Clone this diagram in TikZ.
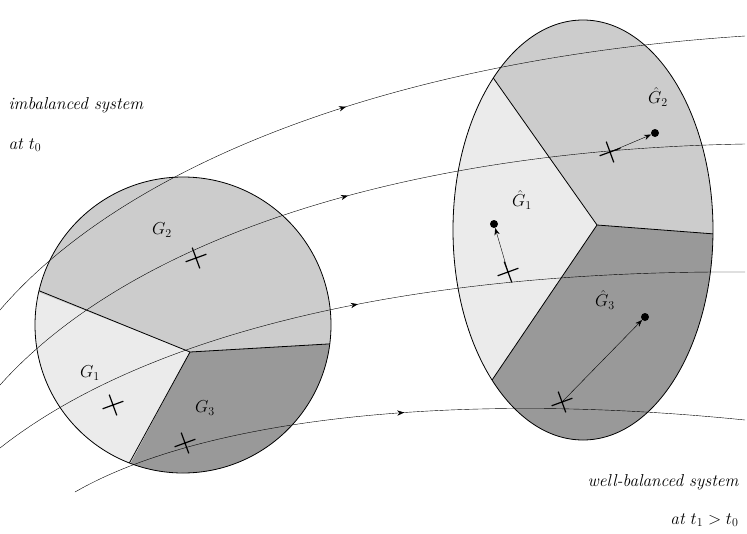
\documentclass[tikz,border=0pt]{standalone}
\usetikzlibrary{arrows.meta,decorations.markings,calc}
\begin{document}
\begin{tikzpicture}[x=1pt,y=-1pt,
  flow/.style={thin,postaction={decorate},decoration={markings,mark=at position 0.5 with {\arrow{Stealth[length=7pt]}},mark=at position 1 with {\arrow{Stealth[length=7pt]}}}},
  crossmark/.style={line width=1.2pt},
  dotmark/.style={circle,fill=black,inner sep=0pt,minimum size=8pt},
  disp/.style={-{Stealth[length=7pt]},thin},
  lbl/.style={font=\LARGE\itshape}]
\useasboundingbox (0,0) rectangle (747,533);
\definecolor{gA}{gray}{0.80}
\definecolor{gB}{gray}{0.92}
\definecolor{gC}{gray}{0.60}
% circle
\coordinate (c) at (183,325);
\coordinate (cm) at (190,352);
\begin{scope}
\clip (c) circle (148);
\fill[gA] (0,150) rectangle (340,480);
\fill[gB] (20,285) -- (cm) -- (127,470) -- (20,480) -- cycle;
\fill[gC] (cm) -- (345,343) -- (345,480) -- (127,470) -- cycle;
\draw[thick] (20,283) -- (cm) -- (345,343);
\draw[thick] (cm) -- (125,471);
\end{scope}
\draw[thick] (c) circle (148);
% ellipse
\coordinate (e) at (583,230);
\coordinate (em) at (597,225);
\begin{scope}
\clip (e) ellipse (130 and 210);
\fill[gA] (450,15) rectangle (715,445);
\fill[gB] (482,62) -- (em) -- (488,386) -- (450,386) -- (450,62) -- cycle;
\fill[gC] (em) -- (715,234) -- (715,445) -- (488,445) -- (488,386) -- cycle;
\draw[thick] (482,62) -- (em) -- (715,234);
\draw[thick] (em) -- (488,386);
\end{scope}
\draw[thick] (e) ellipse (130 and 210);
% flow lines
\coordinate (s1) at (0,310); \coordinate (t1) at (745,36);
\coordinate (s2) at (0,385); \coordinate (t2) at (745,144);
\coordinate (s3) at (0,448); \coordinate (t3) at (745,272);
\coordinate (s4) at (75,492); \coordinate (t4) at (745,420);
\draw[flow] (s1) .. controls (120,170) and (380,60) .. (t1);
\draw[flow] (s2) .. controls (130,240) and (400,150) .. (t2);
\draw[flow] (s3) .. controls (150,330) and (420,270) .. (t3);
\draw[flow] (s4) .. controls (200,420) and (450,390) .. (t4);
% crosses
\foreach \n/\px/\py in {x1/113/405,x2/196/258,x3/185/443,y1/508/272,y2/610/152,y3/562/402}{
  \coordinate (\n) at (\px,\py);
  \draw[crossmark,shift={(\px,\py)},rotate=20] (-11,0) -- (11,0) (0,-11) -- (0,11);
}
\node[dotmark] (d1) at (494,224) {};
\node[dotmark] (d2) at (655,133) {};
\node[dotmark] (d3) at (645,317) {};
\draw[disp] (508,272) -- (d1);
\draw[disp] (610,152) -- (d2);
\draw[disp] (562,402) -- (d3);
% labels
\node[font=\LARGE] (L1) at (90,373) {$G_1$};
\node[font=\LARGE] (L2) at (162,230) {$G_2$};
\node[font=\LARGE] (L3) at (205,408) {$G_3$};
\node[font=\LARGE] (M1) at (522,200) {$\hat G_1$};
\node[font=\LARGE] (M2) at (658,97) {$\hat G_2$};
\node[font=\LARGE] (M3) at (605,300) {$\hat G_3$};
\node[lbl,anchor=west] (a1) at (5,105) {imbalanced system};
\node[lbl,anchor=west] (a2) at (5,145) {at $t_0$};
\node[lbl,anchor=east] (b1) at (742,482) {well-balanced system};
\node[lbl,anchor=east] (b2) at (742,520) {at $t_1 > t_0$};
\end{tikzpicture}
\end{document}
